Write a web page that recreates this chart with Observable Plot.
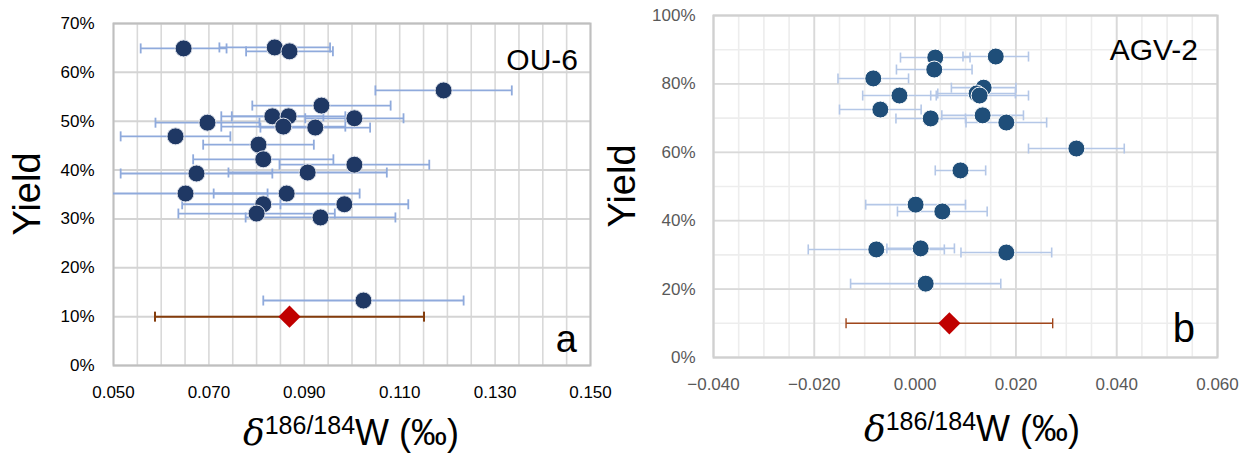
<!DOCTYPE html>
<html><head><meta charset="utf-8">
<script src="https://cdn.jsdelivr.net/npm/d3@7"></script>
<script src="https://cdn.jsdelivr.net/npm/@observablehq/plot@0.6"></script>
<style>
body{margin:0;background:#fff;}
#wrap{position:relative;width:1245px;height:456px;overflow:hidden;background:#fff;}
#a{position:absolute;left:0;top:0;z-index:2;}
#b{position:absolute;left:600px;top:0;z-index:1;}
</style></head><body><div id="wrap"><div id="a"></div><div id="b"></div></div>
<script>
// ---- Panel a: OU-6 ----
const ouX   = [0.0647,0.0838,0.0869,0.1192,0.0936,0.0833,0.0867,0.1005,0.0697,0.0856,0.0923,0.0630,0.0804,0.0814,0.1005,0.0674,0.0907,0.0651,0.0863,0.0814,0.0984,0.0800,0.0934,0.1024];
const ouY   = [0.649,0.651,0.643,0.563,0.532,0.510,0.510,0.506,0.497,0.489,0.487,0.469,0.452,0.422,0.411,0.393,0.395,0.352,0.352,0.330,0.330,0.311,0.303,0.133];
const ouErr = [0.0090,0.0116,0.0091,0.0143,0.0145,0.0107,0.0119,0.0103,0.0109,0.0130,0.0115,0.0115,0.0116,0.0147,0.0157,0.0159,0.0166,0.0172,0.0153,0.0170,0.0134,0.0164,0.0157,0.0210];
const ouRefX = [0.0869], ouRefY = [0.10], ouRefErr = [0.0282];
const ouXTicks = [0.05,0.07,0.09,0.11,0.13,0.15];
const ouYTicks = [0,0.1,0.2,0.3,0.4,0.5,0.6,0.7];

// ---- Panel b: AGV-2 ----
const agvX   = [0.0040,0.0038,-0.0083,-0.0031,-0.0069,0.0031,0.0160,0.0136,0.0122,0.0128,0.0134,0.0181,0.0320,0.0090,0.0001,0.0054,-0.0077,0.0011,0.0181,0.0021];
const agvY   = [0.877,0.842,0.816,0.766,0.725,0.699,0.880,0.789,0.772,0.766,0.708,0.687,0.611,0.547,0.447,0.427,0.316,0.319,0.307,0.216];
const agvErr = [0.0069,0.0075,0.0070,0.0073,0.0081,0.0069,0.0065,0.0064,0.0077,0.0097,0.0081,0.0080,0.0095,0.0050,0.0099,0.0089,0.0135,0.0067,0.0090,0.0149];
const agvRefX = [0.0068], agvRefY = [0.10], agvRefErr = [0.0205];
const agvXTicks = [-0.04,-0.02,0,0.02,0.04,0.06];
const agvYTicks = [0,0.2,0.4,0.6,0.8,1.0];

const rows = (xs, ys, es) => xs.map((x,i)=>({x, y: ys[i], e: es[i]}));
const capSym = {draw(ctx, size){ const h = Math.sqrt(size/Math.PI); ctx.moveTo(0,-h); ctx.lineTo(0,h); }};

function errMarks(data, color, w){
  return [
    Plot.link(data, {x1: d=>d.x-d.e, x2: d=>d.x+d.e, y1:"y", y2:"y", stroke: color, strokeWidth: w, clip: true}),
    Plot.dot(data, {x: d=>d.x-d.e, y:"y", symbol: capSym, r: 5, stroke: color, strokeWidth: w, clip: true}),
    Plot.dot(data, {x: d=>d.x+d.e, y:"y", symbol: capSym, r: 5, stroke: color, strokeWidth: w, clip: true})
  ];
}

function addTitles(svg, cx, baseline, yx, yy){
  const s = d3.select(svg);
  s.append("text").attr("transform", `translate(${yx},${yy}) rotate(-90)`)
    .attr("text-anchor","middle").attr("font-family","Liberation Sans, Arial, sans-serif")
    .attr("font-size", 38).attr("fill","#000").text("Yield");
  const t = s.append("text").attr("x", cx).attr("y", baseline).attr("text-anchor","middle")
    .attr("font-family","Liberation Sans, Arial, sans-serif").attr("font-size",36).attr("fill","#000");
  t.append("tspan").attr("font-family","DejaVu Serif, Liberation Serif, serif").attr("font-style","italic").attr("font-size",36).text("δ");
  t.append("tspan").attr("font-size",25).attr("dy",-11).text("186/184");
  t.append("tspan").attr("dy",11).text("W (‰)");
}
function addLabel(svg, x, y, size, txt){
  d3.select(svg).append("text").attr("x",x).attr("y",y).attr("text-anchor","end")
    .attr("font-family","Liberation Sans, Arial, sans-serif").attr("font-size",size).attr("fill","#000").text(txt);
}

// Panel a
const ouRows = rows(ouX, ouY, ouErr);
const ouRef = rows(ouRefX, ouRefY, ouRefErr);
const plotA = Plot.plot({
  width: 625, height: 456,
  marginLeft: 113, marginRight: 35, marginTop: 23, marginBottom: 91,
  style: {fontFamily: "Liberation Sans, Arial, sans-serif", fontSize: "17px", color: "#000", background: "transparent", overflow: "visible"},
  x: {domain: [0.05, 0.15], label: null},
  y: {domain: [0, 0.7], label: null},
  marks: [
    Plot.ruleX(d3.range(10, 31).map(i => i*0.005), {stroke: "#d9d9d9", strokeWidth: 1.6}),
    Plot.ruleY(ouYTicks, {stroke: "#d4d4d4", strokeWidth: 2}),
    Plot.frame({stroke: "#bfbfbf", strokeWidth: 2}),
    Plot.axisY(ouYTicks, {tickFormat: d3.format(".0%"), tickSize: 0, tickPadding: 19, fill: "#000"}),
    Plot.axisX(ouXTicks, {tickFormat: d3.format(".3f"), tickSize: 0, tickPadding: 20, fill: "#000"}),
    ...errMarks(ouRows, "#8faadc", 1.8),
    ...errMarks(ouRef, "#843c0c", 2),
    Plot.dot(ouRows, {x: "x", y: "y", r: 8.5, fill: "#1f3864", stroke: "#dfe3ec", strokeWidth: 1}),
    Plot.dot(ouRef, {x: "x", y: "y", r: 10, symbol: "diamond2", fill: "#c00000"})
  ]
});
document.getElementById("a").appendChild(plotA);
addTitles(plotA, 351, 445, 40, 194);
addLabel(plotA, 578, 70, 30, "OU-6");
addLabel(plotA, 577, 352, 38, "a");

// Panel b
const agvRows = rows(agvX, agvY, agvErr);
const agvRef = rows(agvRefX, agvRefY, agvRefErr);
const plotB = Plot.plot({
  width: 645, height: 456,
  marginLeft: 113, marginRight: 28, marginTop: 15, marginBottom: 99,
  style: {fontFamily: "Liberation Sans, Arial, sans-serif", fontSize: "17px", color: "#595959", background: "transparent"},
  x: {domain: [-0.04, 0.06], label: null},
  y: {domain: [0, 1], label: null},
  marks: [
    Plot.ruleX(d3.range(-8, 13).map(i => i*0.005), {stroke: "#ededed", strokeWidth: 1.6}),
    Plot.ruleY(d3.range(0, 11).map(i => i*0.1), {stroke: "#ededed", strokeWidth: 1.6}),
    Plot.ruleX(agvXTicks, {stroke: "#d9d9d9", strokeWidth: 1.8}),
    Plot.ruleY(agvYTicks, {stroke: "#d9d9d9", strokeWidth: 1.8}),
    Plot.frame({stroke: "#d0d0d0", strokeWidth: 2}),
    Plot.axisY(agvYTicks, {tickFormat: d3.format(".0%"), tickSize: 0, tickPadding: 18, fill: "#595959"}),
    Plot.axisX(agvXTicks, {tickFormat: d3.format(".3f"), tickSize: 0, tickPadding: 20, fill: "#595959"}),
    ...errMarks(agvRows, "#b4c7e7", 1.6),
    ...errMarks(agvRef, "#a0461b", 1.4),
    Plot.dot(agvRows, {x: "x", y: "y", r: 8.5, fill: "#1f4e79", stroke: "#ffffff", strokeWidth: 1}),
    Plot.dot(agvRef, {x: "x", y: "y", r: 10, symbol: "diamond2", fill: "#c00000"})
  ]
});
document.getElementById("b").appendChild(plotB);
addTitles(plotB, 372, 441, 35, 186);
addLabel(plotB, 598, 60, 30, "AGV-2");
addLabel(plotB, 595, 342, 40, "b");
</script></body></html>
